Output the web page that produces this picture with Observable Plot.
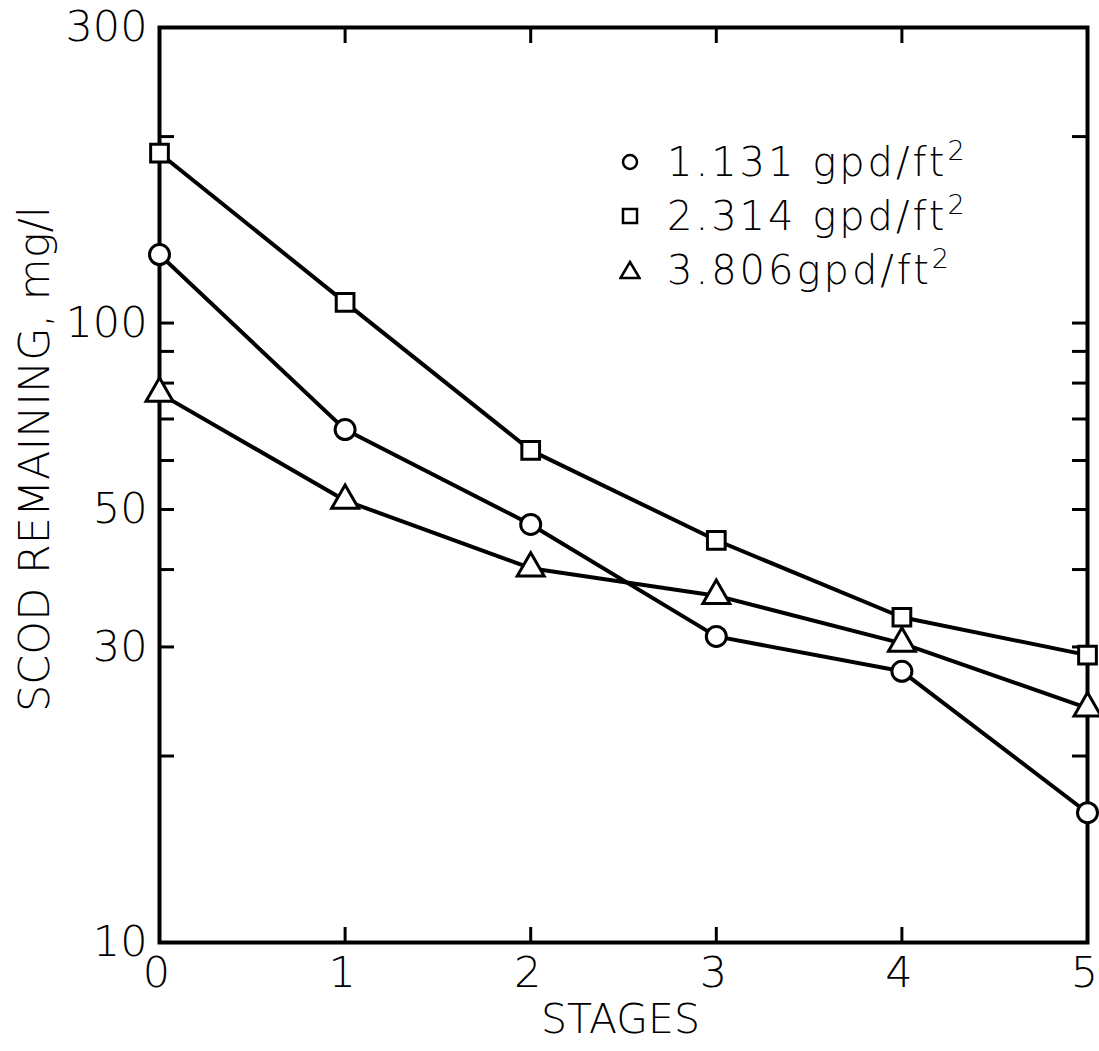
<!DOCTYPE html>
<html><head><meta charset="utf-8">
<script src="https://cdn.jsdelivr.net/npm/d3@7"></script>
<script src="https://cdn.jsdelivr.net/npm/@observablehq/plot@0.6"></script>
<style>
html,body{margin:0;padding:0;background:#fff;}
#wrap{position:relative;width:1099px;height:1051px;font-family:"DejaVu Sans",sans-serif;font-weight:300;color:#000;}
#legend{position:absolute;left:619px;top:135px;font-size:40px;line-height:54px;}
#legend .row{display:flex;align-items:center;white-space:nowrap;}
#legend svg{margin-right:26px;}
#legend span{letter-spacing:3px;}
#legend sup{font-size:27px;vertical-align:16px;line-height:0;letter-spacing:0;}
</style></head><body><div id="wrap"><div id="legend"></div></div>
<script>
const stages = [0, 1, 2, 3, 4, 5];
const seriesNames = ["1.131 gpd/ft²", "2.314 gpd/ft²", "3.806gpd/ft²"];
const legendNumbers = ["1.131 ", "2.314 ", "3.806"];
const legendUnit = "gpd/ft";
const legendSup = "2";
const symbols = ["circle", "square", "triangle"];
const s1131 = [129, 67.3, 47.3, 31.2, 27.4, 16.2];
const s2314 = [188, 108, 62.3, 44.6, 33.5, 29.1];
const s3806 = [77, 51.7, 40.2, 36.3, 30.4, 23.9];
const yLabelTicks = [10, 30, 50, 100, 300];
const yMinorTicks = [20, 30, 40, 50, 60, 70, 80, 90, 100, 200];
const xInnerTicks = [1, 2, 3, 4];
const xLabelTicks = [0, 1, 2, 3, 4, 5];
const xTitle = "STAGES";
const yTitle = "SCOD REMAINING, mg/l";

const values = [s1131, s2314, s3806];
const data = [];
seriesNames.forEach((name, i) => stages.forEach((s, j) => data.push({series: name, stage: s, value: values[i][j]})));

const font = '"DejaVu Sans", sans-serif';
const chart = Plot.plot({
  width: 1099,
  height: 1051,
  marginLeft: 159,
  marginRight: 12,
  marginTop: 27,
  marginBottom: 109,
  style: {fontFamily: font, fontWeight: 300, background: "#fff", color: "#000"},
  x: {domain: [0, 5]},
  y: {type: "log", domain: [10, 300]},
  symbol: {domain: seriesNames, range: symbols},
  marks: [
    Plot.axisY(yMinorTicks, {anchor: "left", tickSize: -15, tickFormat: () => "", strokeWidth: 3, label: null}),
    Plot.axisY(yMinorTicks, {anchor: "right", tickSize: -16, tickFormat: () => "", strokeWidth: 3, label: null}),
    Plot.axisY(yLabelTicks, {anchor: "left", tickSize: 0, tickPadding: 12, fontSize: 43, tickFormat: d => String(d), label: null}),
    Plot.axisX(xInnerTicks, {anchor: "top", tickSize: -15, tickFormat: () => "", strokeWidth: 3, label: null}),
    Plot.axisX(xInnerTicks, {anchor: "bottom", tickSize: -15, tickFormat: () => "", strokeWidth: 3, label: null}),
    Plot.axisX(xLabelTicks, {anchor: "bottom", tickSize: 0, tickPadding: 14, fontSize: 43, dx: -3, tickFormat: d => String(d), label: null}),
    Plot.frame({stroke: "#000", strokeWidth: 4}),
    Plot.line(data, {x: "stage", y: "value", z: "series", stroke: "#000", strokeWidth: 4}),
    Plot.dot(data, {x: "stage", y: "value", symbol: "series", r: 10, fill: "#fff", stroke: "#000", strokeWidth: 3}),
    Plot.text([yTitle], {frameAnchor: "left", textAnchor: "middle", dx: -124, dy: -26, rotate: -90, fontSize: 43, text: d => d}),
    Plot.text([xTitle], {frameAnchor: "bottom", textAnchor: "middle", dx: -3, dy: 90, fontSize: 41, text: d => d})
  ]
});
document.getElementById("wrap").appendChild(chart);

const legend = document.getElementById("legend");
const shapes = [
  '<svg width="22" height="22" viewBox="-11 -11 22 22"><circle r="7" fill="#fff" stroke="#000" stroke-width="2.5"/></svg>',
  '<svg width="22" height="22" viewBox="-11 -11 22 22"><rect x="-7" y="-7" width="14" height="14" fill="#fff" stroke="#000" stroke-width="2.5"/></svg>',
  '<svg width="22" height="22" viewBox="-11 -11 22 22"><path d="M0,-8L9.5,8L-9.5,8Z" fill="#fff" stroke="#000" stroke-width="2.5"/></svg>'
];
legendNumbers.forEach((n, i) => {
  const row = document.createElement("div");
  row.className = "row";
  row.innerHTML = shapes[i] + "<span>" + n + legendUnit + "<sup>" + legendSup + "</sup></span>";
  legend.appendChild(row);
});
</script>
</body></html>
